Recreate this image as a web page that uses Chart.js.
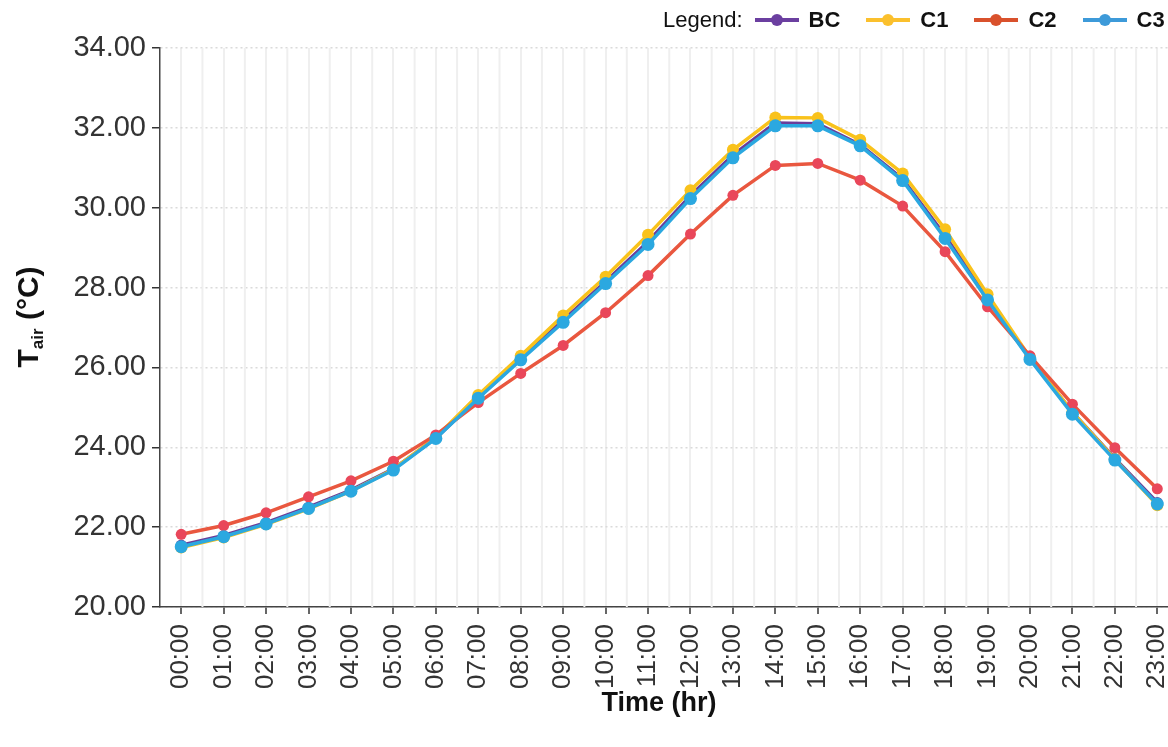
<!DOCTYPE html>
<html>
<head>
<meta charset="utf-8">
<script src="https://cdn.jsdelivr.net/npm/chart.js@4.4.1/dist/chart.umd.min.js"></script>
<style>
  body { margin: 0; background: #fff; overflow: hidden; }
  #wrap { position: relative; width: 1185px; height: 747px; }
  #legend {
    position: absolute; left: 663px; top: 7px;
    display: flex; align-items: center;
    font-family: "Liberation Sans", Arial, sans-serif; font-size: 22px; color: #111;
  }
  #legend .sym { position: relative; width: 44px; height: 24px; margin: 0 10px 0 12px; }
  #legend .sym i { position: absolute; left: 0; right: 0; top: 10px; height: 4px; }
  #legend .sym b { position: absolute; left: 16px; top: 6px; width: 12px; height: 12px; border-radius: 50%; }
  #legend .lab { font-weight: bold; margin-right: 14px; }
</style>
</head>
<body>
<div id="wrap">
  <canvas id="myChart" width="1185" height="747"></canvas>
  <div id="legend"><span>Legend:</span></div>
</div>
<script>
const hours = ["00:00", "01:00", "02:00", "03:00", "04:00", "05:00", "06:00", "07:00",
  "08:00", "09:00", "10:00", "11:00", "12:00", "13:00", "14:00", "15:00",
  "16:00", "17:00", "18:00", "19:00", "20:00", "21:00", "22:00", "23:00"];

const bc = [21.55, 21.79, 22.11, 22.50, 22.93, 23.46, 24.23, 25.25, 26.22, 27.18, 28.15, 29.15,
  30.30, 31.32, 32.12, 32.10, 31.58, 30.72, 29.30, 27.74, 26.22, 24.88, 23.72, 22.62];
const c1 = [21.49, 21.74, 22.07, 22.46, 22.90, 23.45, 24.25, 25.31, 26.29, 27.30, 28.27, 29.32,
  30.44, 31.45, 32.26, 32.25, 31.70, 30.86, 29.46, 27.83, 26.25, 24.88, 23.70, 22.55];
const c2 = [21.82, 22.04, 22.36, 22.76, 23.16, 23.65, 24.31, 25.12, 25.85, 26.55, 27.37, 28.30,
  29.34, 30.31, 31.06, 31.11, 30.69, 30.04, 28.90, 27.52, 26.29, 25.08, 23.99, 22.96];
const c3 = [21.51, 21.76, 22.08, 22.47, 22.90, 23.43, 24.22, 25.23, 26.19, 27.13, 28.10, 29.08,
  30.23, 31.25, 32.05, 32.05, 31.55, 30.68, 29.23, 27.69, 26.20, 24.83, 23.68, 22.58];

const yTicks = [20, 22, 24, 26, 28, 30, 32, 34];

// order: lower number is drawn on top
const series = [
  { name: "BC", data: bc, line: "#6a3d9a", dot: "#6a3d9a", key: "#6b3fa0", r: 5.5, order: 3 },
  { name: "C1", data: c1, line: "#f9c21b", dot: "#f9c21b", key: "#fbc02d", r: 6, order: 2 },
  { name: "C2", data: c2, line: "#e9573f", dot: "#e9475a", key: "#d9512c", r: 5.5, order: 1 },
  { name: "C3", data: c3, line: "#2ba8e0", dot: "#2ba8e0", key: "#3d9ad9", r: 6.5, order: 0 }
];

// html legend
const legend = document.getElementById("legend");
series.forEach(s => {
  const sym = document.createElement("span");
  sym.className = "sym";
  sym.innerHTML = `<i style="background:${s.key}"></i><b style="background:${s.key}"></b>`;
  const lab = document.createElement("span");
  lab.className = "lab";
  lab.textContent = s.name;
  legend.appendChild(sym);
  legend.appendChild(lab);
});

const font = "'Liberation Sans', Arial, sans-serif";

// light vertical lines half way between the hours + axis titles
const extras = {
  id: "extras",
  beforeDatasetsDraw(chart) {
    const { ctx, chartArea, scales: { x } } = chart;
    ctx.save();
    ctx.strokeStyle = "#efefef";
    ctx.lineWidth = 2;
    for (let i = 0; i < hours.length; i++) {
      const px = (x.getPixelForValue(i) + x.getPixelForValue(i + 1)) / 2;
      ctx.beginPath();
      ctx.moveTo(px, chartArea.top);
      ctx.lineTo(px, chartArea.bottom);
      ctx.stroke();
    }
    ctx.restore();
  },
  afterDraw(chart) {
    const ctx = chart.ctx;
    ctx.save();
    ctx.fillStyle = "#111";
    ctx.textBaseline = "middle";
    ctx.textAlign = "center";
    ctx.font = "bold 27px " + font;
    ctx.fillText("Time (hr)", 659, 704);

    // y title with subscript
    ctx.translate(30, 317);
    ctx.rotate(-Math.PI / 2);
    const big = "bold 30px " + font, small = "bold 17px " + font;
    ctx.font = big; const w1 = ctx.measureText("T").width;
    const w3 = ctx.measureText(" (°C)").width;
    ctx.font = small; const w2 = ctx.measureText("air").width;
    let xx = -(w1 + w2 + w3) / 2;
    ctx.textAlign = "left";
    ctx.font = big; ctx.fillText("T", xx, 0); xx += w1;
    ctx.font = small; ctx.fillText("air", xx, 8); xx += w2;
    ctx.font = big; ctx.fillText(" (°C)", xx, 0);
    ctx.restore();
  }
};

const ctx = document.getElementById("myChart");

new Chart(ctx, {
  type: "line",
  data: {
    labels: hours,
    datasets: series.map(s => ({
      label: s.name,
      data: s.data,
      order: s.order,
      borderColor: s.line,
      backgroundColor: s.dot,
      pointBackgroundColor: s.dot,
      pointBorderWidth: 0,
      pointRadius: s.r,
      borderWidth: 3.5,
      tension: 0
    }))
  },
  options: {
    responsive: false,
    animation: false,
    layout: { padding: { top: 48, right: 2, left: 0, bottom: 0 } },
    plugins: { legend: { display: false }, tooltip: { enabled: false } },
    scales: {
      x: {
        offset: true,
        afterFit: s => { s.height = 140; s.paddingLeft = 0; s.paddingRight = 0; },
        grid: { color: "#efefef", lineWidth: 2, tickColor: "#333", tickLength: 7, tickWidth: 1.5 },
        border: { color: "#444", width: 1.5 },
        ticks: {
          autoSkip: false, minRotation: 90, maxRotation: 90, padding: 10,
          color: "#333", font: { family: font, size: 26 }
        }
      },
      y: {
        min: 20, max: 34,
        afterFit: s => { s.width = 160; s.paddingTop = 0; s.paddingBottom = 0; },
        afterBuildTicks: s => { s.ticks = yTicks.map(v => ({ value: v })); },
        grid: { color: "#dadada", lineWidth: 1.5, tickColor: "#333", tickLength: 8, tickWidth: 1.5 },
        border: { color: "#444", width: 1.5, dash: [2, 3] },
        ticks: {
          padding: 6, color: "#333", font: { family: font, size: 29 },
          callback: v => Number(v).toFixed(2)
        }
      }
    }
  },
  plugins: [extras]
});
</script>
</body>
</html>
